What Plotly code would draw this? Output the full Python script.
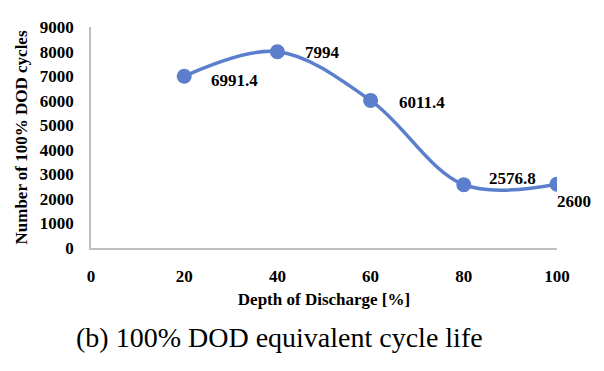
import plotly.graph_objects as go

dod = [20, 40, 60, 80, 100]
cycles = [6991.4, 7994, 6011.4, 2576.8, 2600]
labels = ["6991.4", "7994", "6011.4", "2576.8", "2600"]
label_shift = [(25, -4), (26, -1), (26, -2), (23, 6), (-2, -17)]
x_ticks = [0, 20, 40, 60, 80, 100]
y_ticks = list(range(0, 9001, 1000))

FONT = "Liberation Serif"
COLOR = "#5B7FCC"

fig = go.Figure()
fig.add_trace(go.Scatter(
    x=dod, y=cycles, mode="lines+markers",
    line=dict(color=COLOR, width=3.5, shape="spline", smoothing=1.0),
    marker=dict(color=COLOR, size=15),
    hoverinfo="skip", showlegend=False,
))
for x, y, t, (dx, dy) in zip(dod, cycles, labels, label_shift):
    fig.add_annotation(x=x, y=y, text="<b>%s</b>" % t, showarrow=False,
                       xanchor="left", yanchor="middle", xshift=dx, yshift=dy,
                       font=dict(family=FONT, size=17, color="black"))

fig.add_annotation(x=0.405, y=-0.407, xref="paper", yref="paper",
                   text="(b) 100% DOD equivalent cycle life", showarrow=False,
                   xanchor="center", yanchor="middle",
                   font=dict(family=FONT, size=28, color="black"))

fig.update_layout(
    width=604, height=371,
    margin=dict(l=91, r=47, t=27, b=123),
    paper_bgcolor="white", plot_bgcolor="white",
    font=dict(family=FONT, color="black"),
)
fig.update_xaxes(
    range=[0, 100], tickvals=x_ticks, ticktext=["<b>%d</b>" % v for v in x_ticks],
    showgrid=False, zeroline=False, showline=True, linecolor="#BFBFBF", linewidth=1.5,
    ticks="", tickfont=dict(family=FONT, size=17), ticklabelstandoff=12, automargin=False,
    title=dict(text="<b>Depth of Discharge [%]</b>", font=dict(family=FONT, size=17), standoff=8),
)
fig.update_yaxes(
    range=[0, 9000], tickvals=y_ticks, ticktext=["<b>%d</b>" % v for v in y_ticks],
    showgrid=False, zeroline=False, showline=True, linecolor="#BFBFBF", linewidth=1.5,
    ticks="", tickfont=dict(family=FONT, size=17), ticklabelstandoff=12, automargin=False,
    title=dict(text="<b>Number of 100% DOD cycles</b>", font=dict(family=FONT, size=17), standoff=8),
)

fig.write_html("out.html", config={"displayModeBar": False},
               post_script="document.body.style.margin='0';")
